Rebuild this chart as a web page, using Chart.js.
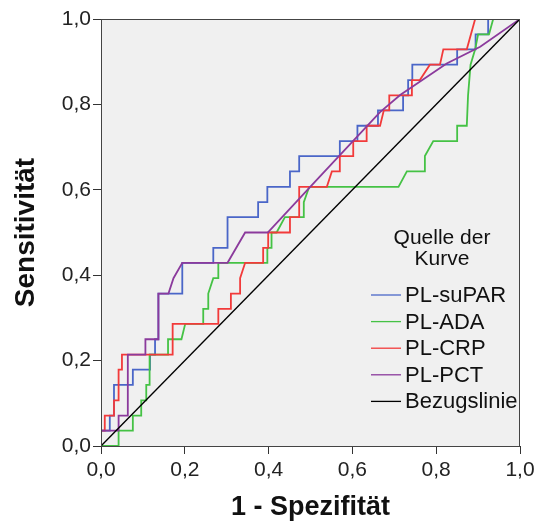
<!DOCTYPE html>
<html>
<head>
<meta charset="utf-8">
<script src="https://cdn.jsdelivr.net/npm/chart.js@4.4.1/dist/chart.umd.min.js"></script>
<style>
  html, body { margin: 0; padding: 0; background: #fff; }
  #wrap { position: relative; width: 542px; height: 524px; }
</style>
</head>
<body>
<div id="wrap"><canvas id="roc" width="542" height="524"></canvas></div>
<script>
// ROC-Kurven: x = 1 - Spezifität, y = Sensitivität
const seriesNames = ["PL-suPAR", "PL-ADA", "PL-CRP", "PL-PCT", "Bezugslinie"]
const seriesColors = ["#4a66c8", "#45c245", "#f23a3a", "#8b3a9c", "#000000"]
const tickValues = [0, 0.2, 0.4, 0.6, 0.8, 1.0]

const suparX = [0, 0, 0.021, 0.021, 0.031, 0.031, 0.076, 0.076, 0.117, 0.117, 0.129, 0.129, 0.137, 0.137, 0.194, 0.194, 0.268, 0.268, 0.302, 0.302, 0.375, 0.375, 0.397, 0.397, 0.451, 0.451, 0.473, 0.473, 0.570, 0.570, 0.612, 0.612, 0.661, 0.661, 0.721, 0.721, 0.733, 0.733, 0.743, 0.743, 0.850, 0.850, 0.894, 0.894, 0.924, 0.924, 1]
const suparY = [0, 0.036, 0.036, 0.071, 0.071, 0.143, 0.143, 0.179, 0.179, 0.214, 0.214, 0.25, 0.25, 0.357, 0.357, 0.429, 0.429, 0.464, 0.464, 0.536, 0.536, 0.571, 0.571, 0.607, 0.607, 0.643, 0.643, 0.679, 0.679, 0.714, 0.714, 0.75, 0.75, 0.786, 0.786, 0.821, 0.821, 0.857, 0.857, 0.893, 0.893, 0.929, 0.929, 0.964, 0.964, 1, 1]

const adaX = [0, 0.042, 0.042, 0.076, 0.076, 0.096, 0.096, 0.108, 0.108, 0.116, 0.116, 0.160, 0.160, 0.192, 0.201, 0.244, 0.244, 0.256, 0.256, 0.268, 0.280, 0.280, 0.397, 0.397, 0.407, 0.407, 0.419, 0.439, 0.484, 0.484, 0.497, 0.710, 0.730, 0.773, 0.773, 0.793, 0.850, 0.850, 0.873, 0.876, 0.882, 0.893, 0.900, 0.926, 0.936, 1]
const adaY = [0, 0, 0.036, 0.036, 0.071, 0.071, 0.107, 0.107, 0.143, 0.143, 0.214, 0.214, 0.25, 0.25, 0.286, 0.286, 0.321, 0.321, 0.357, 0.393, 0.393, 0.429, 0.429, 0.464, 0.464, 0.5, 0.5, 0.536, 0.536, 0.571, 0.607, 0.607, 0.643, 0.643, 0.679, 0.714, 0.714, 0.75, 0.75, 0.821, 0.893, 0.929, 0.964, 0.964, 1, 1]

const crpX = [0, 0, 0.009, 0.009, 0.031, 0.031, 0.042, 0.042, 0.050, 0.050, 0.171, 0.171, 0.280, 0.280, 0.310, 0.310, 0.332, 0.332, 0.344, 0.387, 0.387, 0.399, 0.399, 0.451, 0.451, 0.473, 0.473, 0.539, 0.551, 0.570, 0.570, 0.602, 0.602, 0.634, 0.634, 0.666, 0.675, 0.688, 0.688, 0.742, 0.742, 0.761, 0.785, 0.809, 0.817, 0.873, 0.893, 1]
const crpY = [0, 0.036, 0.036, 0.071, 0.071, 0.107, 0.107, 0.179, 0.179, 0.214, 0.214, 0.286, 0.286, 0.321, 0.321, 0.357, 0.357, 0.393, 0.429, 0.429, 0.464, 0.464, 0.5, 0.5, 0.536, 0.536, 0.607, 0.607, 0.643, 0.643, 0.679, 0.679, 0.714, 0.714, 0.75, 0.75, 0.786, 0.786, 0.821, 0.821, 0.857, 0.857, 0.893, 0.893, 0.929, 0.929, 1, 1]

const pctX = [0, 0, 0.042, 0.042, 0.064, 0.064, 0.106, 0.106, 0.137, 0.137, 0.161, 0.173, 0.194, 0.302, 0.344, 0.398, 0.511, 0.666, 0.714, 0.825, 0.905, 1]
const pctY = [0, 0.036, 0.036, 0.071, 0.071, 0.214, 0.214, 0.25, 0.25, 0.357, 0.357, 0.393, 0.429, 0.429, 0.5, 0.5, 0.619, 0.782, 0.822, 0.896, 0.935, 1]

const refX = [0, 1]
const refY = [0, 1]

const FONT = '"Liberation Sans", Arial, sans-serif'

function toPoints(xs, ys) {
    return xs.map((x, i) => ({ x: x, y: ys[i] }))
}

function fmt(v) {
    return Number(v).toFixed(1).replace('.', ',')
}

const curves = [
    [suparX, suparY],
    [adaX, adaY],
    [crpX, crpY],
    [pctX, pctY],
    [refX, refY],
]
const drawOrder = [5, 4, 3, 2, 1]

const datasets = curves.map((c, i) => ({
    label: seriesNames[i],
    data: toPoints(c[0], c[1]),
    borderColor: seriesColors[i],
    backgroundColor: seriesColors[i],
    borderWidth: i === 4 ? 1.4 : 1.8,
    showLine: true,
    pointRadius: 0,
    tension: 0,
    fill: false,
    order: drawOrder[i],
}))

// grey plot background + frame
const plotFrame = {
    id: 'plotFrame',
    beforeDraw(chart) {
        const { ctx, chartArea: a } = chart
        ctx.save()
        ctx.fillStyle = '#f0f0f0'
        ctx.fillRect(a.left, a.top, a.right - a.left, a.bottom - a.top)
        ctx.restore()
    },
    afterDraw(chart) {
        const { ctx, chartArea: a } = chart
        ctx.save()
        ctx.strokeStyle = '#444'
        ctx.lineWidth = 1
        ctx.strokeRect(a.left + 0.5, a.top + 0.5, a.right - a.left - 1, a.bottom - a.top)
        ctx.restore()
    }
}

// legend inside the plot, like the SPSS output
const curveLegend = {
    id: 'curveLegend',
    afterDraw(chart) {
        const { ctx, chartArea: a } = chart
        const cx = a.right - 78
        ctx.save()
        ctx.fillStyle = '#111'
        ctx.font = '21px ' + FONT
        ctx.textAlign = 'center'
        ctx.textBaseline = 'middle'
        ctx.fillText('Quelle der', cx, a.top + 219)
        ctx.fillText('Kurve', cx, a.top + 240)
        ctx.textAlign = 'left'
        ctx.font = '22px ' + FONT
        seriesNames.forEach((name, i) => {
            const y = a.top + 276 + i * 26.6
            ctx.strokeStyle = seriesColors[i]
            ctx.lineWidth = 1.3
            ctx.beginPath()
            ctx.moveTo(a.left + 270, y)
            ctx.lineTo(a.left + 300, y)
            ctx.stroke()
            ctx.fillStyle = '#111'
            ctx.fillText(name, a.left + 304, y + 1)
        })
        ctx.restore()
    }
}

const axisCommon = {
    type: 'linear',
    min: 0,
    max: 1,
    afterBuildTicks: (scale) => { scale.ticks = tickValues.map(v => ({ value: v })) },
    grid: { drawOnChartArea: false, drawTicks: true, tickLength: 8, color: '#333', lineWidth: 1 },
    border: { display: true, color: '#333', width: 1 },
}

new Chart(document.getElementById('roc'), {
    type: 'scatter',
    data: { datasets: datasets },
    options: {
        responsive: false,
        animation: false,
        devicePixelRatio: 1,
        layout: { padding: { top: 19, right: 22, left: 0, bottom: 0 } },
        plugins: {
            legend: { display: false },
            tooltip: { enabled: false },
        },
        scales: {
            x: {
                ...axisCommon,
                ticks: { callback: fmt, font: { size: 21, family: FONT }, color: '#222', padding: 4, maxRotation: 0 },
                title: { display: true, text: '1 - Spezifität', color: '#111', font: { size: 27, weight: 'bold', family: FONT }, padding: { top: 0, bottom: 0 } },
                afterFit: (s) => { s.height = 78 },
            },
            y: {
                ...axisCommon,
                ticks: { callback: fmt, font: { size: 21, family: FONT }, color: '#222', padding: 2 },
                title: { display: true, text: 'Sensitivität', color: '#111', font: { size: 28, weight: 'bold', family: FONT }, padding: { top: 9, bottom: 0 } },
                afterFit: (s) => { s.width = 101 },
            },
        },
    },
    plugins: [plotFrame, curveLegend],
})
</script>
</body>
</html>
